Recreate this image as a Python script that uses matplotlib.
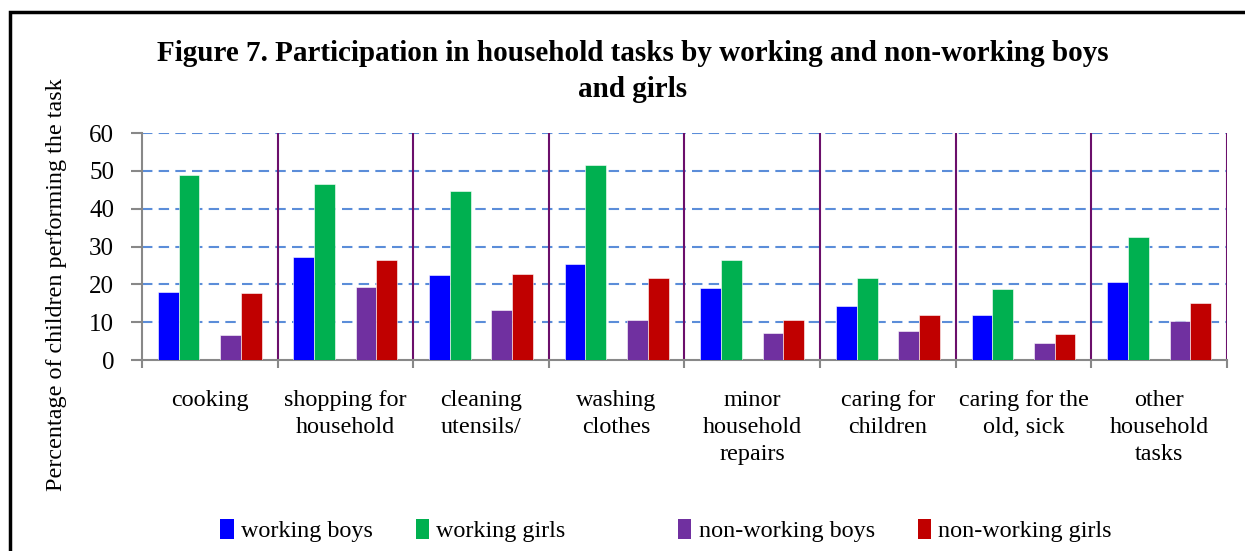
import numpy as np
import matplotlib.pyplot as plt
from matplotlib.patches import Rectangle, Patch

plt.rcParams['font.family'] = ['Liberation Serif', 'DejaVu Serif']

# data
categories = ['cooking', 'shopping for\nhousehold', 'cleaning\nutensils/', 'washing\nclothes',
              'minor\nhousehold\nrepairs', 'caring for\nchildren', 'caring for the\nold, sick',
              'other\nhousehold\ntasks']
working_boys = [18.1, 27.1, 22.5, 25.4, 19.0, 14.2, 11.9, 20.5]
working_girls = [48.9, 46.5, 44.8, 51.5, 26.4, 21.8, 18.8, 32.6]
nonworking_boys = [6.6, 19.2, 13.3, 10.6, 7.2, 7.7, 4.5, 10.4]
nonworking_girls = [17.8, 26.5, 22.7, 21.7, 10.7, 11.8, 6.9, 15.0]

series = [('working boys', working_boys, '#0000FF'),
          ('working girls', working_girls, '#00B050'),
          (None, None, None),
          ('non-working boys', nonworking_boys, '#7030A0'),
          ('non-working girls', nonworking_girls, '#C00000')]

fig = plt.figure(figsize=(12.45, 5.51), dpi=100)
ax = fig.add_axes([0.114, 0.3466, 0.8715, 0.412])

x = np.arange(len(categories))
w = 0.153
handles = []
for i, (name, vals, col) in enumerate(series):
    if vals is None:
        handles.append(Patch(facecolor='none', edgecolor='none', label=' '))
        continue
    ax.bar(x + (i - 2) * w, vals, w, color=col, edgecolor='white', linewidth=0.4, zorder=3)
    handles.append(Patch(facecolor=col, label=name))

ax.set_xlim(-0.5, len(categories) - 0.5)
ax.set_ylim(0, 60)
ax.set_yticks(range(0, 61, 10))
ax.tick_params(axis='y', labelsize=18, length=8, color='#888888', width=1.5, pad=12)

# category boundaries
bounds = np.arange(len(categories) + 1) - 0.5
ax.set_xticks(bounds)
ax.set_xticklabels([])
ax.tick_params(axis='x', length=6, color='#888888', width=1.5)
ax.set_xticks(x, minor=True)
ax.set_xticklabels(categories, minor=True, fontsize=17.4, linespacing=1.38)
ax.tick_params(axis='x', which='minor', length=0, pad=21.5)
for b in bounds[1:]:
    ax.axvline(b, color='#6B0F6B', lw=1.5, zorder=2)

for yv in range(10, 61, 10):
    ax.axhline(yv, color='#5B8DD9', lw=1.5, ls=(0, (5, 3)), zorder=1)

for s in ['top', 'right']:
    ax.spines[s].set_visible(False)
for s in ['left', 'bottom']:
    ax.spines[s].set_color('#888888')
    ax.spines[s].set_linewidth(1.5)

ax.set_ylabel('Percentage of children performing the task', fontsize=17.4)
ax.yaxis.set_label_coords(-0.069, 0.33)

fig.text(0.508, 0.8705, 'Figure 7. Participation in household tasks by working and non-working boys\nand girls',
         ha='center', va='center', fontsize=21, fontweight='bold', linespacing=1.4)

fig.legend(handles=handles, loc='center', bbox_to_anchor=(0.535, 0.037), ncol=5, frameon=False,
           fontsize=17.4, handlelength=0.55, handleheight=0.9, handletextpad=0.3, columnspacing=1.78)

# outer frame
fig.patches.append(Rectangle((10 / 1245, -0.1), 1.2, 1 - 12 / 551 + 0.1, transform=fig.transFigure,
                             fill=False, edgecolor='black', lw=2.5))

fig.savefig('out.png', dpi=100)
